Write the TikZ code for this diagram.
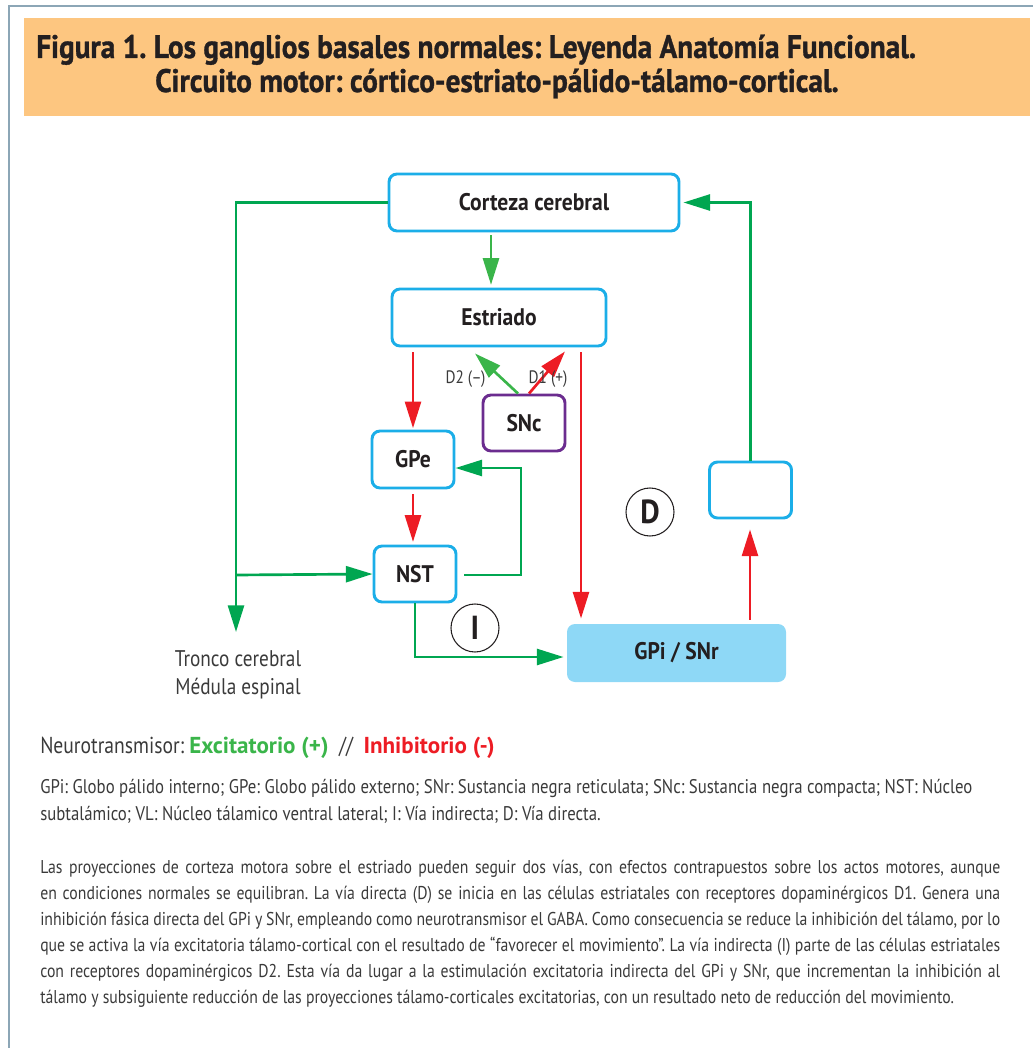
\documentclass[tikz,border=0pt]{standalone}
\usepackage{fontspec}
\setmainfont[FakeStretch=0.85]{PT Sans}
\newfontfamily\headfont[FakeStretch=0.9]{PT Sans}
\newfontfamily\titlefont[FakeStretch=0.9,FakeBold=1]{PT Sans}
\newfontfamily\widefont{PT Sans}
\usetikzlibrary{arrows.meta,calc}

\definecolor{framec}{HTML}{8CA6B6}
\definecolor{titlebg}{HTML}{FDC680}
\definecolor{boxline}{HTML}{1BAEE8}
\definecolor{sncline}{HTML}{6B2C8F}
\definecolor{gpifill}{HTML}{8ED8F6}
\definecolor{exc}{HTML}{00A651}
\definecolor{excl}{HTML}{3AB54A}
\definecolor{inh}{HTML}{ED1C24}
\definecolor{ink}{HTML}{231F20}
\definecolor{txt}{HTML}{3A3A3A}

\tikzset{
  box/.style={draw=boxline, line width=2.2pt, rounded corners=6pt, fill=white,
    inner sep=0pt, text=ink, font=\headfont\bfseries\fontsize{18}{21}\selectfont},
  sncbox/.style={box, draw=sncline},
  gpibox/.style={box, draw=none, fill=gpifill},
  circlab/.style={draw=ink, line width=0.8pt, circle, minimum size=36pt, inner sep=0pt,
    text=ink, font=\headfont\bfseries\fontsize{25}{25}\selectfont},
  garrow/.style={exc, line width=2pt, -{Triangle[length=20pt,width=12pt]}},
  lgarrow/.style={garrow, excl},
  rarrow/.style={garrow, inh},
  dlbl/.style={text=txt, inner sep=0pt, font=\fontsize{13.5}{15}\selectfont},
}

\begin{document}
\frenchspacing
\begin{tikzpicture}[x=0.75pt,y=-0.75pt]
\useasboundingbox (0,0) rectangle (1033,1048);
% frame and title bar
\draw[framec, line width=2.2pt] (9,1048) -- (9,6) -- (1033,6);
\fill[titlebg] (24,18) rectangle (1030,116);
\node[anchor=base west, inner sep=0pt, text=ink, font=\titlefont\bfseries\fontsize{24.4}{28}\selectfont] (title1) at (36,58)
  {Figura 1. Los ganglios basales normales: Leyenda Anatomía Funcional.};
\node[anchor=base west, inner sep=0pt, text=ink, font=\titlefont\bfseries\fontsize{24.4}{28}\selectfont] (title2) at (155,92)
  {Circuito motor: córtico-estriato-pálido-tálamo-cortical.};

% nuclei
\node[box, minimum width=217.5pt, minimum height=42.75pt] (ctx) at (534,202.5) {Corteza cerebral};
\node[box, minimum width=160.5pt, minimum height=42.75pt] (str) at (499,317.5) {Estriado};
\node[sncbox, minimum width=61.5pt, minimum height=42pt] (snc) at (524,423) {SNc};
\node[box, minimum width=61.5pt, minimum height=42.75pt] (gpe) at (413,459.5) {GPe};
\node[box, minimum width=61.5pt, minimum height=42pt] (nst) at (415,574) {NST};
\node[gpibox, minimum width=164.25pt, minimum height=43.5pt] (gpi) at (676.5,653) {GPi / SNr};
\node[box, minimum width=61.5pt, minimum height=42pt] (vl) at (750.5,490) {};
\node[circlab] (dir) at (650,512) {D};
\node[circlab] (ind) at (475,628) {I};

% helper points
\coordinate (tronco) at (236,632);
\coordinate (split) at (236,575);
\coordinate (c2s) at ($(ctx.south)+(-43,3)$);
\coordinate (s2g) at ($(str.south)+(-86,5)$);
\coordinate (dstart) at ($(str.south)+(82,5)$);
\coordinate (loop) at (521,468);
\coordinate (g2v) at ($(gpi.north)+(73.5,-3)$);

% excitatory
\draw[garrow] (ctx.west) -| (tronco);
\draw[garrow] (split) -- (nst.west);
\draw[lgarrow, shorten >=2pt] (c2s) -- (c2s |- str.north);
\draw[garrow] ($(nst.east)+(7,1)$) -| (loop) -- (gpe.east |- loop);
\draw[garrow] (nst.south) |- ($(gpi.west)+(-2,4)$);
\draw[garrow] (vl.north) |- ($(ctx.east)+(3,0)$);
\draw[lgarrow] ($(snc.north)+(-6,0)$) -- ($(str.south)+(-24,6)$);

% inhibitory
\draw[rarrow, shorten >=1pt] (s2g) -- (s2g |- gpe.north);
\draw[rarrow, shorten >=2pt] ($(gpe.south)+(0,5)$) -- (gpe.south |- nst.north);
\draw[rarrow, shorten >=3pt] (dstart) -- (dstart |- gpi.north);
\draw[rarrow, shorten >=7.5pt] (g2v) -- (g2v |- vl.south);
\draw[rarrow] ($(snc.north)+(5,0)$) -- ($(str.south)+(66,4)$);

\node[dlbl] (d2) at (465.5,379) {D2 (–)};
\node[dlbl] (d1) at (548,379) {D1 (+)};
\node[align=center, inner sep=0pt, text=txt, font=\fontsize{17}{21}\selectfont] (salida) at (238,675)
  {Tronco cerebral\\Médula espinal};

% legend and notes
\node[anchor=base west, inner sep=0pt, text=txt, font=\fontsize{17.3}{20}\selectfont] (legend) at (40,753)
  {Neurotransmisor: \textcolor{excl}{\widefont\bfseries Excitatorio (+)}\ \ //\ \ \textcolor{inh}{\widefont\bfseries Inhibitorio (-)}};
\node[anchor=north west, inner sep=0pt, align=left, text=txt, font=\fontsize{14.8}{20.25}\selectfont] (abbr) at (40,779)
  {GPi: Globo pálido interno; GPe: Globo pálido externo; SNr: Sustancia negra reticulata; SNc: Sustancia negra compacta; NST: Núcleo\\
   subtalámico; VL: Núcleo tálamico ventral lateral; I: Vía indirecta; D: Vía directa.};
\node[anchor=north west, inner sep=0pt, text width=720pt, align=justify, text=txt, font=\fontsize{13.9}{19.5}\selectfont] (texto) at (40,860)
  {Las proyecciones de corteza motora sobre el estriado pueden seguir dos vías, con efectos contrapuestos sobre los actos motores, aunque\linebreak
   en condiciones normales se equilibran. La vía directa (D) se inicia en las células estriatales con receptores dopaminérgicos D1. Genera una\linebreak
   inhibición fásica directa del GPi y SNr, empleando como neurotransmisor el GABA. Como consecuencia se reduce la inhibición del tálamo, por lo\linebreak
   que se activa la vía excitatoria tálamo-cortical con el resultado de “favorecer el movimiento”. La vía indirecta (I) parte de las células estriatales\linebreak
   con receptores dopaminérgicos D2. Esta vía da lugar a la estimulación excitatoria indirecta del GPi y SNr, que incrementan la inhibición al\linebreak
   tálamo y subsiguiente reducción de las proyecciones tálamo-corticales excitatorias, con un resultado neto de reducción del movimiento.};
\end{tikzpicture}
\end{document}
